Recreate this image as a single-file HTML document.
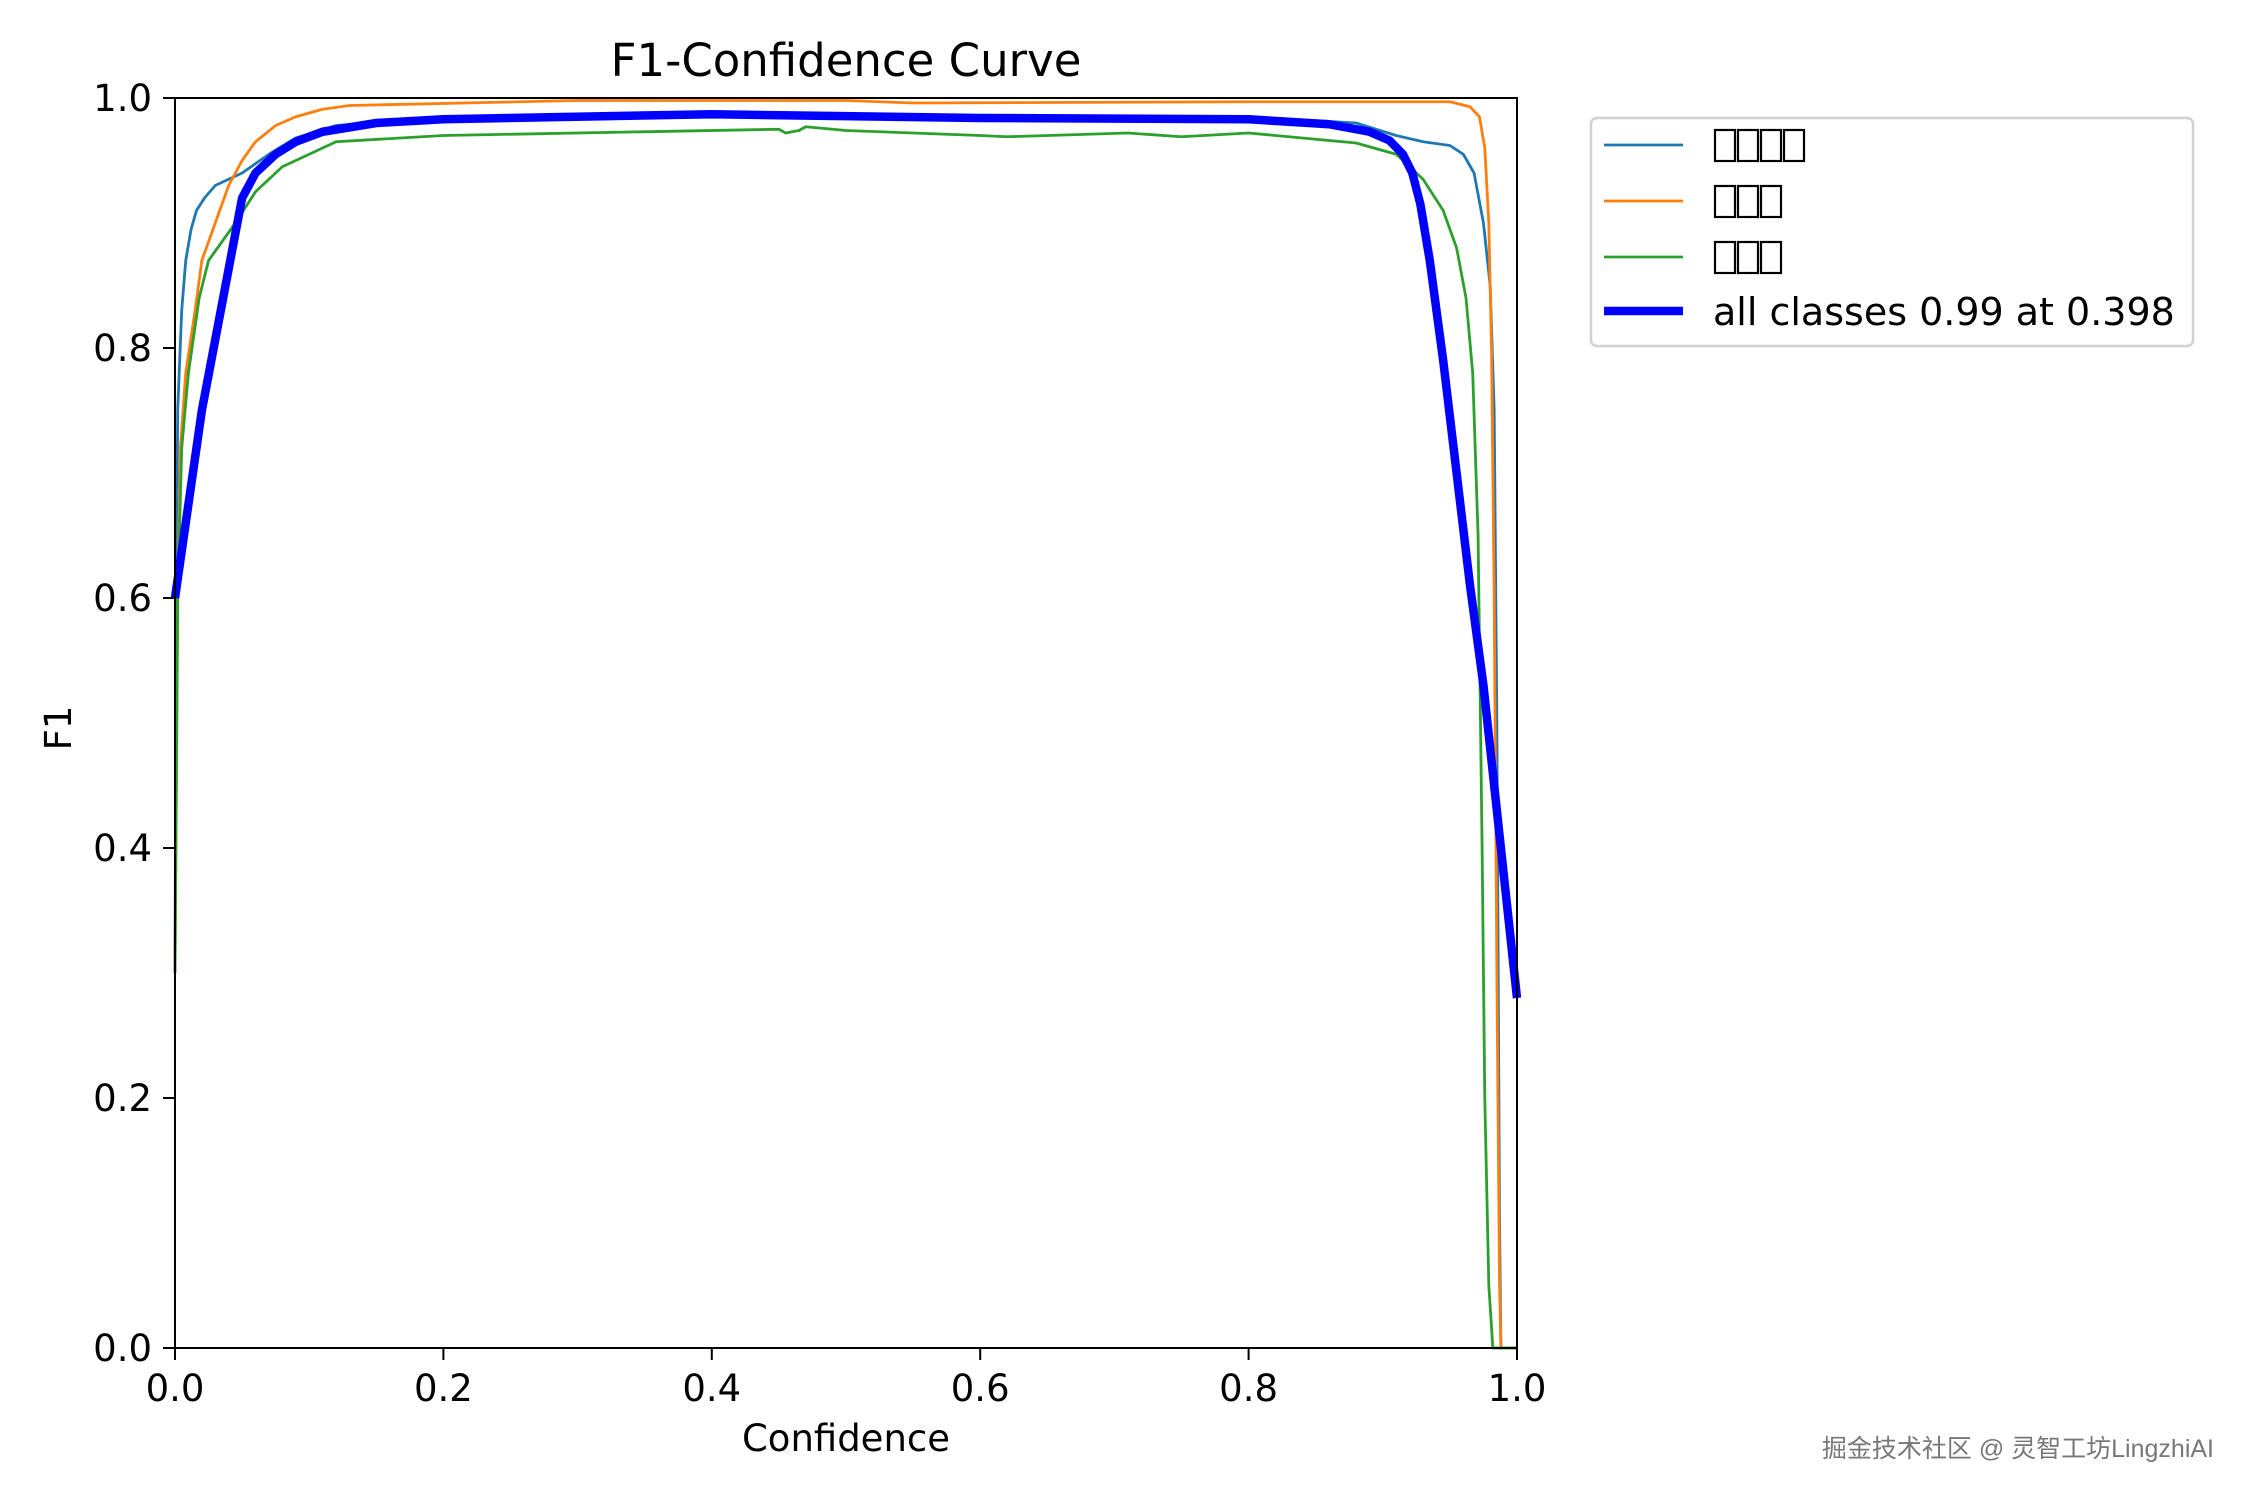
<!DOCTYPE html>
<html><head><meta charset="utf-8"><style>
html,body{margin:0;padding:0;background:#fff}
svg{display:block}
text{font-family:"DejaVu Sans","Liberation Sans",sans-serif;fill:#000}
</style></head><body>
<svg width="2250" height="1500" viewBox="0 0 2250 1500" xmlns="http://www.w3.org/2000/svg">
<rect width="2250" height="1500" fill="#fff"/>
<text x="846" y="76" font-size="45" text-anchor="middle">F1-Confidence Curve</text>
<g transform="matrix(1342 0 0 -1250 175 1348)" fill="none" stroke-linejoin="round">
<polyline vector-effect="non-scaling-stroke" stroke="#1f77b4" stroke-width="2.8" points="0,0.3 0.001,0.6 0.002,0.75 0.005,0.83 0.008,0.87 0.012,0.895 0.016,0.91 0.022,0.92 0.03,0.93 0.05,0.94 0.07,0.955 0.09,0.968 0.12,0.978 0.2,0.985 0.4,0.987 0.6,0.985 0.8,0.985 0.88,0.98 0.91,0.97 0.93,0.965 0.95,0.962 0.96,0.955 0.968,0.94 0.975,0.9 0.98,0.85 0.983,0.75 0.985,0.5 0.987,0.1 0.988,0 1,0"/>
<polyline vector-effect="non-scaling-stroke" stroke="#ff7f0e" stroke-width="2.8" points="0,0.3 0.002,0.6 0.004,0.72 0.008,0.78 0.015,0.83 0.02,0.87 0.03,0.9 0.04,0.93 0.05,0.95 0.06,0.965 0.075,0.978 0.09,0.985 0.11,0.991 0.13,0.994 0.3,0.998 0.5,0.998 0.55,0.996 0.8,0.997 0.95,0.997 0.965,0.993 0.972,0.985 0.976,0.96 0.979,0.9 0.981,0.8 0.983,0.6 0.985,0.3 0.987,0.05 0.988,0 1,0"/>
<polyline vector-effect="non-scaling-stroke" stroke="#2ca02c" stroke-width="2.8" points="0,0.3 0.002,0.6 0.005,0.72 0.01,0.78 0.018,0.84 0.025,0.87 0.035,0.885 0.045,0.9 0.06,0.925 0.08,0.945 0.1,0.955 0.12,0.965 0.2,0.97 0.45,0.975 0.455,0.972 0.465,0.974 0.47,0.977 0.5,0.974 0.6,0.97 0.62,0.969 0.71,0.972 0.75,0.969 0.8,0.972 0.88,0.964 0.91,0.955 0.93,0.935 0.945,0.91 0.955,0.88 0.962,0.84 0.967,0.78 0.971,0.65 0.974,0.4 0.976,0.2 0.979,0.05 0.982,0 1,0"/>
<polyline vector-effect="non-scaling-stroke" stroke="#0000ff" stroke-width="8.5" points="0,0.6 0.02,0.75 0.05,0.92 0.06,0.94 0.075,0.955 0.09,0.965 0.11,0.973 0.15,0.98 0.2,0.983 0.4,0.987 0.6,0.984 0.8,0.983 0.86,0.979 0.89,0.973 0.905,0.966 0.915,0.955 0.922,0.94 0.928,0.915 0.935,0.87 0.945,0.79 0.955,0.7 0.965,0.61 0.975,0.53 0.985,0.43 0.993,0.35 1,0.28"/>
</g>
<rect x="175" y="98" width="1342" height="1250" fill="none" stroke="#000" stroke-width="2"/>
<g stroke="#000" stroke-width="2">
<line x1="175" y1="1348" x2="175" y2="1360"/><line x1="443.4" y1="1348" x2="443.4" y2="1360"/><line x1="711.8" y1="1348" x2="711.8" y2="1360"/><line x1="980.2" y1="1348" x2="980.2" y2="1360"/><line x1="1248.6" y1="1348" x2="1248.6" y2="1360"/><line x1="1517" y1="1348" x2="1517" y2="1360"/>
<line x1="163" y1="1348" x2="175" y2="1348"/><line x1="163" y1="1098" x2="175" y2="1098"/><line x1="163" y1="848" x2="175" y2="848"/><line x1="163" y1="598" x2="175" y2="598"/><line x1="163" y1="348" x2="175" y2="348"/><line x1="163" y1="98" x2="175" y2="98"/>
</g>
<g font-size="37" text-anchor="middle">
<text x="175" y="1401">0.0</text><text x="443.4" y="1401">0.2</text><text x="711.8" y="1401">0.4</text><text x="980.2" y="1401">0.6</text><text x="1248.6" y="1401">0.8</text><text x="1517" y="1401">1.0</text>
</g>
<g font-size="37" text-anchor="end">
<text x="152" y="1361">0.0</text><text x="152" y="1111">0.2</text><text x="152" y="861">0.4</text><text x="152" y="611">0.6</text><text x="152" y="361">0.8</text><text x="152" y="111">1.0</text>
</g>
<text x="846" y="1451" font-size="37" text-anchor="middle">Confidence</text>
<text x="0" y="0" font-size="37" text-anchor="middle" transform="translate(71 728) rotate(-90)">F1</text>
<rect x="1591" y="118" width="602" height="228" rx="6" fill="#fff" stroke="#d0d0d0" stroke-width="2.5"/>
<g stroke-width="2.8">
<line x1="1604" y1="145" x2="1683" y2="145" stroke="#1f77b4"/>
<line x1="1604" y1="201" x2="1683" y2="201" stroke="#ff7f0e"/>
<line x1="1604" y1="257" x2="1683" y2="257" stroke="#2ca02c"/>
<line x1="1604" y1="311" x2="1683" y2="311" stroke="#0000ff" stroke-width="8.5"/>
</g>
<g fill="none" stroke="#000" stroke-width="2.2">
<rect x="1715" y="130" width="20" height="31"/><rect x="1738" y="130" width="20" height="31"/><rect x="1761" y="130" width="20" height="31"/><rect x="1784" y="130" width="20" height="31"/>
<rect x="1715" y="186" width="20" height="31"/><rect x="1738" y="186" width="20" height="31"/><rect x="1761" y="186" width="20" height="31"/>
<rect x="1715" y="242" width="20" height="31"/><rect x="1738" y="242" width="20" height="31"/><rect x="1761" y="242" width="20" height="31"/>
</g>
<text x="1713" y="325" font-size="38">all classes 0.99 at 0.398</text>
<text x="2214" y="1457" font-size="25" text-anchor="end" style="font-family:'Liberation Sans','Noto Sans CJK SC',sans-serif;fill:#777">掘金技术社区 @ 灵智工坊LingzhiAI</text>
</svg>
</body></html>
